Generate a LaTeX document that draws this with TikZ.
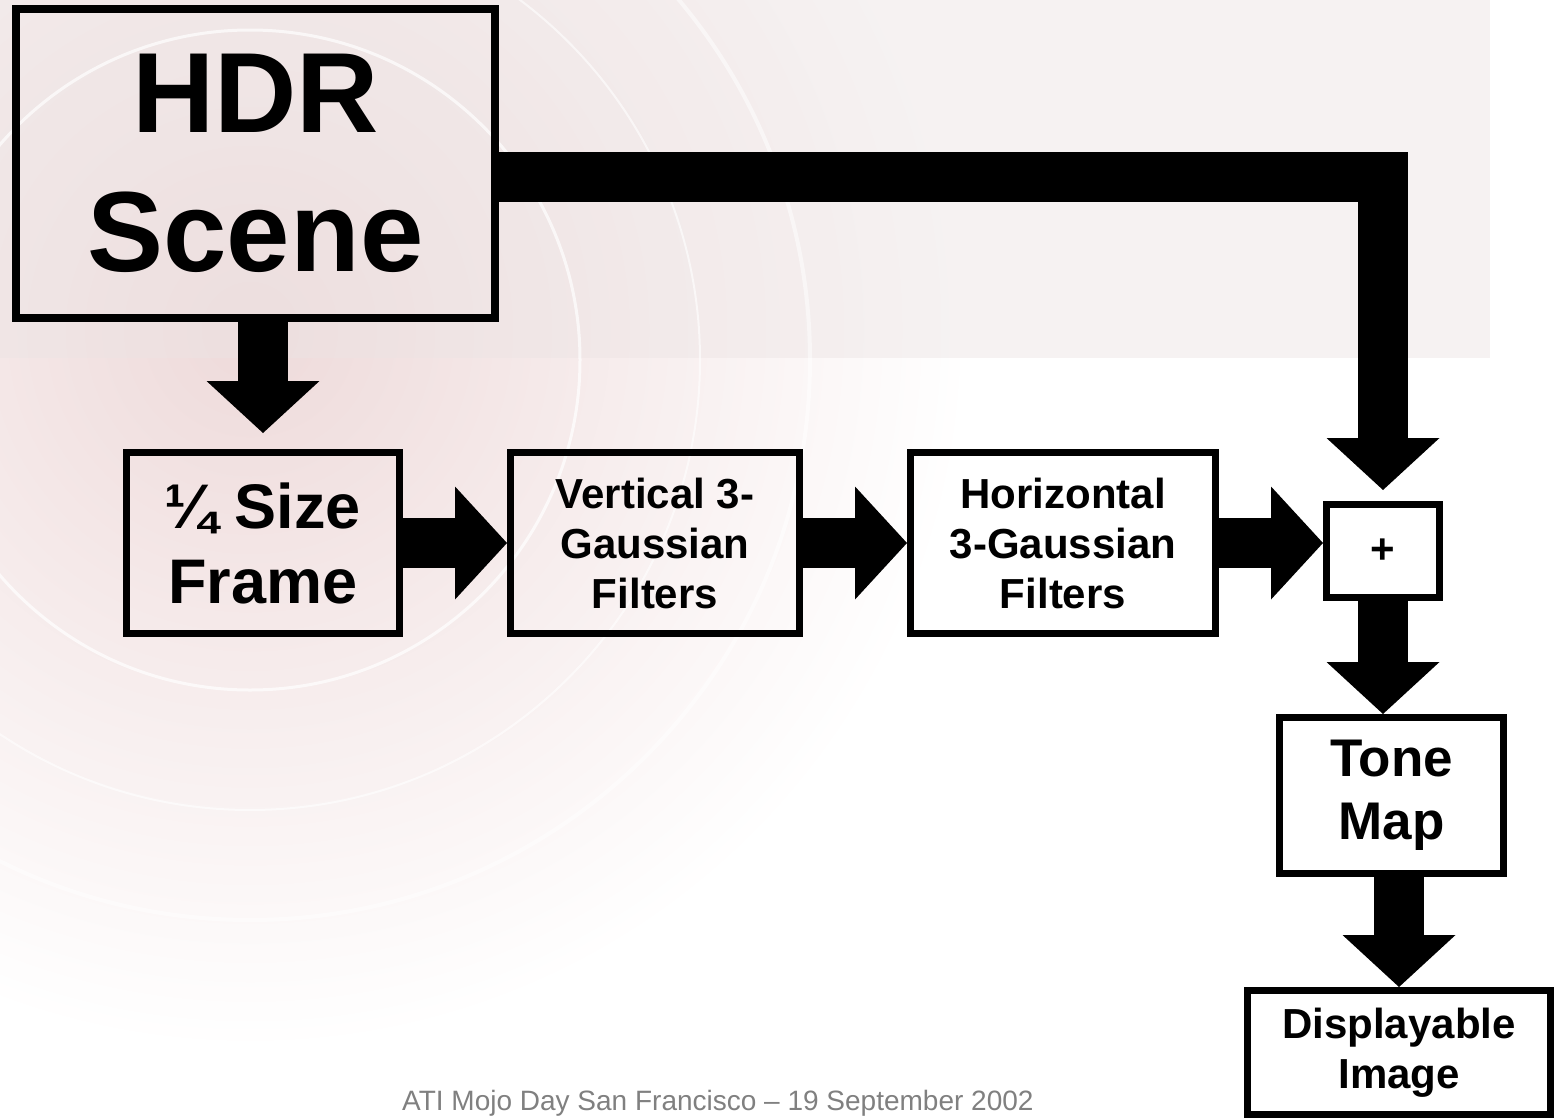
\documentclass[tikz,border=0pt]{standalone}
\usepackage{fontspec}
\setmainfont{Liberation Sans}
\usetikzlibrary{arrows.meta}

\definecolor{bgpink}{RGB}{238,218,218}
\definecolor{bgband}{RGB}{236,228,228}
\definecolor{footgray}{RGB}{128,128,128}

\tikzset{
  stage/.style={draw=black, line width=7pt, inner sep=0pt, align=center,
    font=\bfseries\fontsize{42}{50}\selectfont},
  flow/.style={line width=50pt, line join=miter,
    -{Triangle[length=52pt, width=113pt, line width=0pt]}},
}

\begin{document}
\begin{tikzpicture}[x=1pt, y=-1pt]
\useasboundingbox (0,0) rectangle (1555,1119);

% faded backdrop
\begin{scope}
\clip (0,0) rectangle (1555,1119);
\fill[white] (0,0) rectangle (1555,1119);
\shade[inner color=bgpink, outer color=white] (250,330) circle (720);
\fill[bgband, opacity=0.45] (0,0) rectangle (1490,358);
\draw[white, line width=3pt, opacity=0.7] (250,360) circle (330);
\draw[white, line width=2pt, opacity=0.6] (250,360) circle (450);
\draw[white, line width=4pt, opacity=0.5] (250,360) circle (560);
\end{scope}

\node[stage, line width=8pt, minimum width=479pt, minimum height=309pt,
  font=\bfseries\fontsize{114}{139}\selectfont] (hdr) at (255.5,163.5) {HDR\\Scene};

\node[stage, minimum width=273pt, minimum height=181pt,
  font=\bfseries\fontsize{63}{75}\selectfont] (quarter) at (263,543) {¼ Size\\Frame};
\node[stage, minimum width=289pt, minimum height=181pt] (vgauss) at (655,543) {Vertical 3-\\Gaussian\\Filters};
\node[stage, minimum width=305pt, minimum height=181pt] (hgauss) at (1063,543) {Horizontal\\3-Gaussian\\Filters};
\node[stage, minimum width=113pt, minimum height=93pt] (plus) at (1383,551) {+};

\node[stage, minimum width=224pt, minimum height=156pt,
  font=\bfseries\fontsize{53}{63}\selectfont] (tone) at (1391.5,795.5) {Tone\\Map};
\node[stage, minimum width=303pt, minimum height=124pt] (disp) at (1399,1052.5) {Displayable\\Image};

\coordinate (bus) at (1383,177);

% block arrows
\draw[flow, shorten >=16pt] (quarter.north |- hdr.south) -- (quarter.north);
\draw[flow] (quarter.east) -- (vgauss.west);
\draw[flow] (vgauss.east) -- (hgauss.west);
\draw[flow] (hgauss.east) -- (hgauss.east -| plus.west);
\draw[flow, shorten >=11pt] (hdr.east |- bus) -- (bus) -- (plus.north);
\draw[flow] (plus.south) -- (plus.south |- tone.north);
\draw[flow] (disp.north |- tone.south) -- (disp.north);

\node[anchor=base west, text=footgray, inner sep=0pt,
  font=\fontsize{28}{34}\selectfont] (foot) at (402,1110)
  {ATI Mojo Day San Francisco – 19 September 2002};
\end{tikzpicture}
\end{document}
